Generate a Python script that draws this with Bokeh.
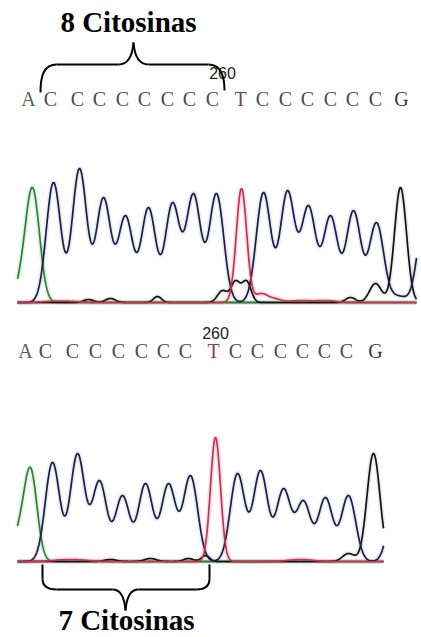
import numpy as np
from bokeh.plotting import figure
from bokeh.models import Range1d, ColumnDataSource
from bokeh.embed import file_html
from bokeh.resources import INLINE
from bokeh.core.properties import value

# ---------------- DATA ----------------
# Base calls (letter, scan position)
top_bases = list("ACCCCCCCCTCCCCCCG")
top_base_pos = [28, 50, 77, 99, 122, 144, 167, 189, 212, 240, 262, 285, 307, 330, 352, 375, 401]
bot_bases = list("ACCCCCCCTCCCCCCG")
bot_base_pos = [25, 45, 72, 95, 118, 141, 163, 185, 213, 235, 257, 280, 302, 324, 346, 375]
top_marker, top_marker_pos = "260", 222
bot_marker, bot_marker_pos = "260", 215

# Top trace peaks (scan position, peak height, width)
topA_pos = [20, 32];  topA_h = [40, 115];  topA_w = [6, 7]
topC_pos = [53, 79, 103, 125, 148, 172, 193, 216, 263, 287, 308, 330, 353, 376, 398, 424]
topC_h   = [120, 134, 105, 87, 95, 100, 109, 109, 110, 112, 97, 87, 92, 80, 7, 85]
topC_w   = [7.2] * 14 + [8, 7]
topG_pos = [88, 110, 157, 222, 235, 246, 350, 375, 400]
topG_h   = [3, 4, 6, 12, 22, 22, 5, 19, 115]
topG_w   = [5, 5, 4, 5, 4.5, 4.5, 5, 6, 6]
topT_pos = [60, 241, 260, 272, 300, 325]
topT_h   = [1.5, 114, 9, 5, 2, 2]
topT_w   = [15, 5.2, 6, 8, 10, 10]

# Bottom trace peaks
botA_pos = [18, 30];  botA_h = [40, 94];  botA_w = [6, 6.5]
botC_pos = [52, 77, 99, 122, 145, 168, 190, 237, 260, 283, 303, 325, 348, 396]
botC_h   = [99, 108, 81, 66, 78, 78, 86, 88, 91, 73, 61, 64, 66, 80]
botC_w   = [7.2] * 14
botG_pos = [110, 150, 188, 205, 348, 373]
botG_h   = [2, 3, 3, 6, 8, 108]
botG_w   = [6, 6, 5, 4, 6, 6.5]
botT_pos = [215, 70, 300]
botT_h   = [124, 2, 2]
botT_w   = [5, 15, 12]

top_scan = (17, 416)
bot_scan = (17, 383)

colors = {"A": "#2f7f3a", "C": "#1c1c3c", "G": "#111111", "T": "#c8324b"}
halo = {"A": "#9fd89f", "C": "#b4bce8", "G": "#c4c4c4", "T": "#f3a0b4"}
letter_col = {"A": "#4d6a4d", "C": "#4a4a58", "G": "#3a3a3a", "T": "#8a4040"}


def trace(xs, pos, h, w):
    pos = np.asarray(pos, float); h = np.asarray(h, float); w = np.asarray(w, float)
    M = np.exp(-((pos[:, None] - pos[None, :]) ** 2) / (2 * w[None, :] ** 2))
    amp = np.linalg.solve(M, h)
    return (amp[None, :] * np.exp(-((xs[:, None] - pos[None, :]) ** 2) / (2 * w[None, :] ** 2))).sum(axis=1)


W, H = 421, 637
p = figure(width=W, height=H, x_range=Range1d(0, W), y_range=Range1d(H, 0),
           output_backend="svg", toolbar_location=None, min_border=0)
p.axis.visible = False
p.grid.visible = False
p.outline_line_color = None
p.background_fill_color = "white"
p.border_fill_color = "white"

p.extra_y_ranges = {"top": Range1d(-335, 302), "bot": Range1d(-76, 561)}

panels = [
    ("top", top_scan, {"A": (topA_pos, topA_h, topA_w), "C": (topC_pos, topC_h, topC_w),
                        "G": (topG_pos, topG_h, topG_w), "T": (topT_pos, topT_h, topT_w)}),
    ("bot", bot_scan, {"A": (botA_pos, botA_h, botA_w), "C": (botC_pos, botC_h, botC_w),
                        "G": (botG_pos, botG_h, botG_w), "T": (botT_pos, botT_h, botT_w)}),
]

for name, (x0, x1), tr in panels:
    xs = np.arange(x0, x1 + 0.25, 0.5)
    p.line(xs, np.zeros_like(xs), y_range_name=name, line_color="#3d3d28", line_width=2)
    for base in ["A", "G", "C", "T"]:
        ys = np.clip(trace(xs, *tr[base]), 0, None)
        p.line(xs, ys, y_range_name=name, line_color=halo[base], line_width=5, line_alpha=0.3)
    for base in ["A", "G", "C", "T"]:
        ys = np.clip(trace(xs, *tr[base]), 0, None)
        p.line(xs, ys, y_range_name=name, line_color=colors[base], line_width=1.7)

# sequence letters
for bases, pos, ybase in [(top_bases, top_base_pos, 98), (bot_bases, bot_base_pos, 350)]:
    src = ColumnDataSource(dict(x=pos, y=[ybase] * len(pos), t=bases,
                                c=[letter_col[b] for b in bases]))
    p.text(x="x", y="y", text="t", source=src, text_color="c",
           text_font=value("Liberation Serif"), text_font_size="20px",
           text_align="center", text_baseline="alphabetic")

p.text(x=[top_marker_pos], y=[72], text=[top_marker], text_font=value("Liberation Sans"),
       text_font_size="16px", text_color="#222222", text_align="center", text_baseline="alphabetic")
p.text(x=[bot_marker_pos], y=[332], text=[bot_marker], text_font=value("Liberation Sans"),
       text_font_size="16px", text_color="#222222", text_align="center", text_baseline="alphabetic")

# titles
p.text(x=[128], y=[21], text=["8 Citosinas"], text_font=value("Liberation Serif"),
       text_font_size="29px", text_font_style="bold", text_color="black",
       text_align="center", text_baseline="alphabetic")
p.text(x=[126], y=[619], text=["7 Citosinas"], text_font=value("Liberation Serif"),
       text_font_size="29px", text_font_style="bold", text_color="black",
       text_align="center", text_baseline="alphabetic")

# braces
tb = dict(x0=[40, 56, 118, 133, 148, 208], y0=[92, 64, 64, 42, 64, 64],
          x1=[56, 118, 133, 148, 208, 224], y1=[64, 64, 42, 64, 64, 90],
          cx0=[40, 56, 128, 134, 148, 220], cy0=[74, 64, 64, 55, 64, 64],
          cx1=[44, 118, 132, 138, 208, 224], cy1=[64, 64, 55, 64, 64, 76])
p.bezier(source=ColumnDataSource(tb), x0="x0", y0="y0", x1="x1", y1="y1",
         cx0="cx0", cy0="cy0", cx1="cx1", cy1="cy1", line_color="black", line_width=2)
bb = dict(x0=[42, 42, 56, 112, 125, 138, 196, 209], y0=[564, 578, 589, 589, 610, 589, 589, 578],
          x1=[42, 56, 112, 125, 138, 196, 209, 209], y1=[578, 589, 589, 610, 589, 589, 578, 564],
          cx0=[42, 42, 56, 120, 126, 138, 204, 209], cy0=[564, 586, 589, 589, 597, 589, 589, 578],
          cx1=[42, 48, 112, 124, 130, 196, 209, 209], cy1=[578, 589, 589, 597, 589, 589, 586, 564])
p.bezier(source=ColumnDataSource(bb), x0="x0", y0="y0", x1="x1", y1="y1",
         cx0="cx0", cy0="cy0", cx1="cx1", cy1="cy1", line_color="black", line_width=2)

open("out.html", "w").write(file_html(p, INLINE))
